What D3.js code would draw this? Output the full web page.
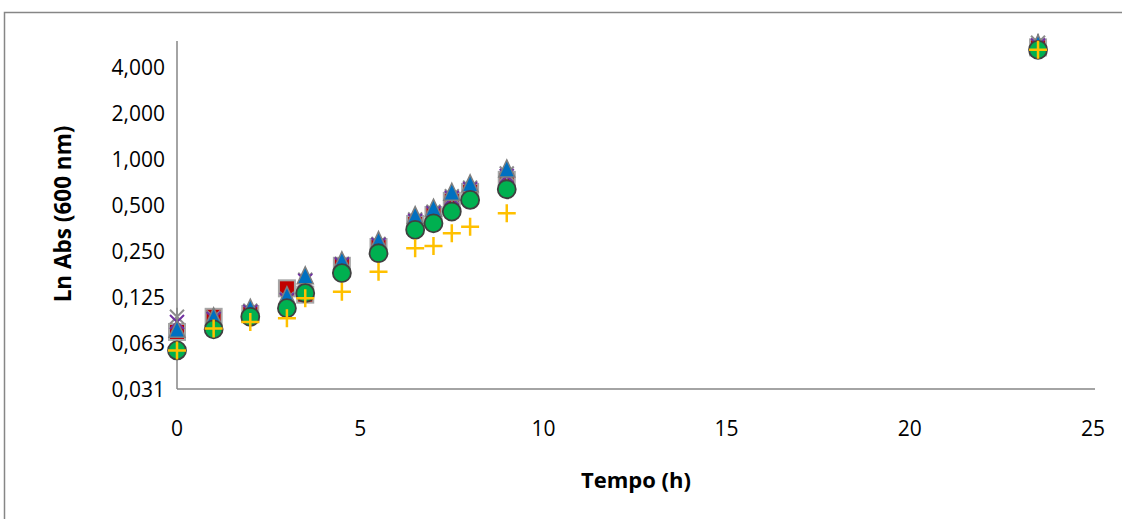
<!doctype html>
<html>
<head>
<meta charset="utf-8">
<script src="https://d3js.org/d3.v7.min.js"></script>
<style>
  body { margin: 0; background: #fff; }
  text { font-family: "Open Sans", "Noto Sans", sans-serif; }
</style>
</head>
<body>
<svg id="chart" width="1122" height="519"></svg>
<script>
// time points (h)
var tempo = [0, 1, 2, 3, 3.5, 4.5, 5.5, 6.5, 7, 7.5, 8, 9, 23.5];

// absorbance readings per series
var serieQuadrado = [0.074, 0.093, 0.097, 0.143, 0.130, 0.201, 0.267, 0.378, 0.433, 0.536, 0.614, 0.736, 5.45];
var serieTriangulo = [0.077, 0.093, 0.106, 0.128, 0.173, 0.217, 0.294, 0.429, 0.480, 0.611, 0.693, 0.869, 5.75];
var serieX = [0.086, 0.090, 0.100, 0.120, 0.160, 0.205, 0.275, 0.395, 0.445, 0.560, 0.640, 0.780, 5.6];
var serieEstrela = [0.093, 0.092, 0.102, 0.122, 0.163, 0.207, 0.280, 0.405, 0.455, 0.575, 0.655, 0.810, 5.85];
var serieCirculo = [0.056, 0.077, 0.093, 0.106, 0.133, 0.180, 0.243, 0.346, 0.382, 0.456, 0.544, 0.639, 5.25];
var serieMais = [0.056, 0.078, 0.086, 0.091, 0.123, 0.136, 0.184, 0.262, 0.271, 0.329, 0.363, 0.445, 5.25];

var yTicks = [0.03125, 0.0625, 0.125, 0.25, 0.5, 1, 2, 4];
var xTicks = [0, 5, 10, 15, 20, 25];

var svg = d3.select("#chart");
var axisColor = "#868686";

// outer chart frame (runs off the right and bottom)
svg.append("rect")
    .attr("x", 4.5).attr("y", 12.5)
    .attr("width", 1200).attr("height", 600)
    .attr("fill", "none").attr("stroke", axisColor).attr("stroke-width", 1.5);

var x = d3.scaleLinear().domain([0, 25]).range([177, 1093]);
var y = d3.scaleLog().base(2).domain([0.03125, 6]).range([389, 41]);

var locale = d3.formatLocale({decimal: ",", thousands: ".", grouping: [3], currency: ["", ""]});
var fmt = locale.format(".3f");

// axes lines
svg.append("line")
    .attr("x1", x(0)).attr("x2", x(0))
    .attr("y1", y.range()[1]).attr("y2", y.range()[0])
    .attr("stroke", axisColor).attr("stroke-width", 1.5);
svg.append("line")
    .attr("x1", x(0)).attr("x2", 1095)
    .attr("y1", y(0.03125)).attr("y2", y(0.03125))
    .attr("stroke", axisColor).attr("stroke-width", 1.5);

svg.append("g").selectAll("text")
    .data(yTicks).enter().append("text")
    .attr("x", x(0) - 12)
    .attr("y", function(d) { return y(d); })
    .attr("dy", "0.36em")
    .attr("text-anchor", "end")
    .style("font-size", "21px")
    .attr("fill", "#000")
    .text(function(d) { return fmt(d); });

svg.append("g").selectAll("text")
    .data(xTicks).enter().append("text")
    .attr("x", function(d) { return x(d); })
    .attr("y", 428)
    .attr("dy", "0.36em")
    .attr("text-anchor", "middle")
    .style("font-size", "21px")
    .attr("fill", "#000")
    .text(function(d) { return d; });

svg.append("text")
    .attr("x", 636).attr("y", 480).attr("dy", "0.36em")
    .attr("text-anchor", "middle")
    .style("font-size", "22px").style("font-weight", "bold")
    .text("Tempo (h)");

svg.append("text")
    .attr("transform", "translate(63,214) rotate(-90)")
    .attr("dy", "0.36em")
    .attr("text-anchor", "middle")
    .style("font-size", "22.5px").style("font-weight", "bold")
    .text("Ln Abs (600 nm)");

function pts(vals) {
  return vals.map(function(v, i) { return {t: tempo[i], v: v}; });
}
function place(d) { return "translate(" + x(d.t) + "," + y(d.v) + ")"; }

var marks = svg.append("g");

// red squares
marks.append("g").selectAll("rect")
    .data(pts(serieQuadrado)).enter().append("rect")
    .attr("transform", place)
    .attr("x", -8).attr("y", -8).attr("width", 16).attr("height", 16)
    .attr("fill", "#C00000").attr("stroke", "#A6A6A6").attr("stroke-width", 2);

// gray star
marks.append("g").selectAll("path")
    .data(pts(serieEstrela)).enter().append("path")
    .attr("transform", place)
    .attr("d", "M-7,-7L7,7M7,-7L-7,7M0,-9L0,9")
    .attr("fill", "none").attr("stroke", "#8C8C8C").attr("stroke-width", 2);

// purple x
marks.append("g").selectAll("path")
    .data(pts(serieX)).enter().append("path")
    .attr("transform", place)
    .attr("d", "M-7,-7L7,7M7,-7L-7,7")
    .attr("fill", "none").attr("stroke", "#7030A0").attr("stroke-width", 2);

// blue triangles
marks.append("g").selectAll("path")
    .data(pts(serieTriangulo)).enter().append("path")
    .attr("transform", place)
    .attr("d", "M0,-9L8,8L-8,8Z")
    .attr("fill", "#0070C0").attr("stroke", "#7F7F7F").attr("stroke-width", 1.5);

// green circles
marks.append("g").selectAll("circle")
    .data(pts(serieCirculo)).enter().append("circle")
    .attr("transform", place)
    .attr("r", 9)
    .attr("fill", "#00B050").attr("stroke", "#404040").attr("stroke-width", 1.8);

// yellow plus
marks.append("g").selectAll("path")
    .data(pts(serieMais)).enter().append("path")
    .attr("transform", place)
    .attr("d", "M-9,0L9,0M0,-9L0,9")
    .attr("fill", "none").attr("stroke", "#FFC000").attr("stroke-width", 2.5);
</script>
</body>
</html>
